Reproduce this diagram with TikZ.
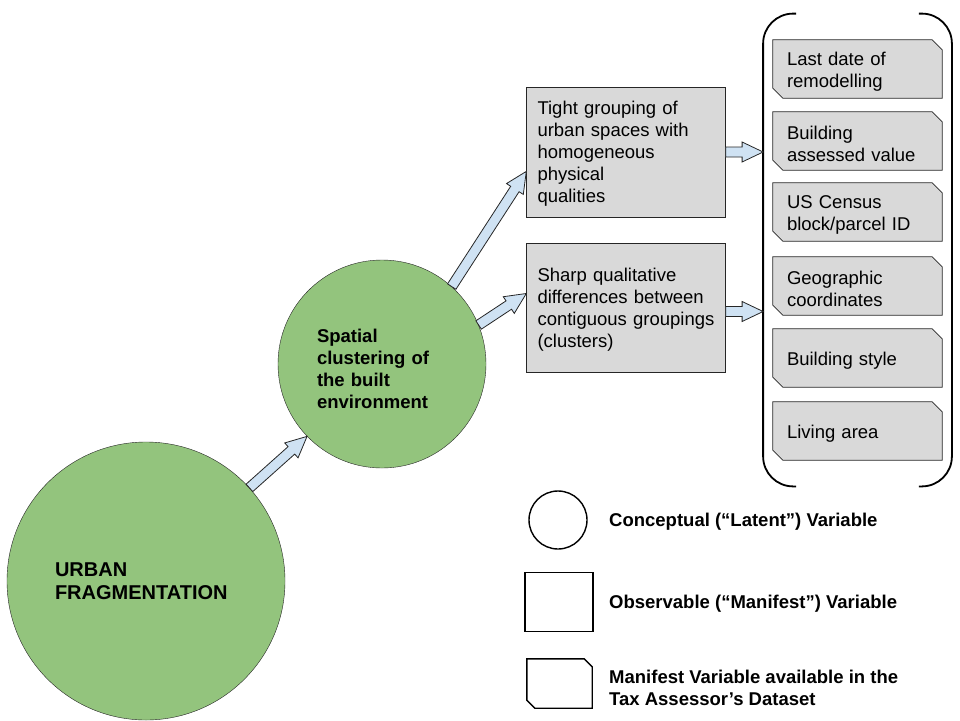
\documentclass[tikz,border=0pt]{standalone}
\usepackage{fontspec}
\setmainfont{Liberation Sans}
\usetikzlibrary{calc,fit,backgrounds}

\definecolor{latentgreen}{HTML}{93C47D}
\definecolor{boxgray}{HTML}{D9D9D9}
\definecolor{arrowblue}{HTML}{CFE2F3}

\tikzset{
  latent/.style={circle, draw=black!85, fill=latentgreen, inner sep=0pt, align=left,
    font=\bfseries\fontsize{18.5}{22}\selectfont},
  observed/.style={rectangle, draw=black!85, fill=boxgray, align=left, inner xsep=11pt,
    text width=177pt, text height=17.5pt, minimum height=130pt, font=\fontsize{18.5}{22}\selectfont},
  available/.style={rectangle, align=left, inner xsep=14pt, inner ysep=0pt, text width=141pt,
    text height=19.5pt, minimum height=58pt, font=\fontsize{18.5}{22}\selectfont},
  cutfill/.style={draw=black!85, fill=boxgray, line width=0.8pt},
  arrowbody/.style={draw=black!85, fill=arrowblue, line width=0.8pt, line join=miter},
  bracket/.style={draw=black, line width=1.8pt, rounded corners=30pt},
  keyshape/.style={draw=black, fill=white, line width=1.4pt, inner sep=0pt},
  keycut/.style={draw=black, fill=white, line width=1.4pt},
  keytext/.style={anchor=west, align=left, inner sep=0pt, font=\bfseries\fontsize{18.5}{22}\selectfont}
}

\newcommand{\blockarrow}[2]{%
  \coordinate (ah) at ($(#2)!21pt!(#1)$);
  \filldraw[arrowbody] ($(#1)!5pt!90:(#2)$) -- ($(ah)!5pt!90:(#2)$) -- ($(ah)!10pt!90:(#2)$)
    -- (#2) -- ($(ah)!10pt!-90:(#2)$) -- ($(ah)!5pt!-90:(#2)$) -- ($(#1)!5pt!-90:(#2)$) -- cycle;}

\newcommand{\cutbox}[3]{%
  \filldraw[#2] (#1.north west) -- ($(#1.north east)+(-#3,0)$) -- ($(#1.north east)+(0,#3)$)
    -- (#1.south east) -- ($(#1.south west)+(#3,0)$) -- ($(#1.south west)+(0,-#3)$) -- cycle;}

\begin{document}
\begin{tikzpicture}[x=1pt, y=-1pt]
  \useasboundingbox (0,0) rectangle (960,720);

  \node[latent, minimum size=278pt, text width=182pt, font=\bfseries\fontsize{20}{23}\selectfont]
    (urban) at (146,581) {URBAN\\FRAGMENTATION};
  \node[latent, minimum size=208pt, text width=130pt, text height=23.5pt]
    (spatial) at (382,364) {Spatial\\clustering of\\the built\\environment};

  \node[observed] (tight) at (626,152) {Tight grouping of\\urban spaces with\\homogeneous\\physical\\qualities};
  \node[observed, minimum height=129pt] (sharp) at (626,307.5) {Sharp qualitative\\differences between\\contiguous groupings\\(clusters)};

  \node[available] (remodel) at (857.5,69) {Last date of\\remodelling};
  \node[available] (value) at (857.5,141) {Building\\assessed value};
  \node[available] (census) at (857.5,212) {US Census\\block/parcel ID};
  \node[available] (geo) at (857.5,286) {Geographic\\coordinates};
  \node[available] (bstyle) at (857.5,358) {Building style};
  \node[available] (living) at (857.5,431) {Living area};
  \begin{scope}[on background layer]
    \foreach \m in {remodel,value,census,geo,bstyle,living}
      \cutbox{\m}{cutfill}{10};
  \end{scope}

  \node[fit=(remodel)(living), inner xsep=9.5pt, inner ysep=26pt] (dataset) {};
  \draw[bracket] ($(dataset.north west)+(33,0)$) -- (dataset.north west) -- (dataset.south west) -- ($(dataset.south west)+(33,0)$);
  \draw[bracket] ($(dataset.north east)+(-33,0)$) -- (dataset.north east) -- (dataset.south east) -- ($(dataset.south east)+(-33,0)$);

  \coordinate (tightend) at (tight.east -| dataset.west);
  \coordinate (sharpstart) at ($(sharp.east)+(0,4)$);
  \coordinate (sharpend) at (sharpstart -| dataset.west);
  \blockarrow{urban.42}{spatial.224}
  \blockarrow{spatial.48}{tight.191}
  \blockarrow{spatial.22}{sharp.172}
  \blockarrow{tight.east}{tightend}
  \blockarrow{sharpstart}{sharpend}

  \node[keyshape, circle, minimum size=58pt] (latentkey) at (558,520) {};
  \node[keyshape, rectangle, minimum width=68pt, minimum height=59pt] (observedkey) at (559,602) {};
  \node[rectangle, inner sep=0pt, minimum width=65pt, minimum height=49pt] (availablekey) at (559.5,683.5) {};
  \cutbox{availablekey}{keycut}{8}
  \node[keytext] (latentlabel) at (609,522) {Conceptual (“Latent”) Variable};
  \node[keytext] (observedlabel) at (609,604) {Observable (“Manifest”) Variable};
  \node[keytext] (availablelabel) at (609,688) {Manifest Variable available in the\\Tax Assessor’s Dataset};
\end{tikzpicture}
\end{document}
